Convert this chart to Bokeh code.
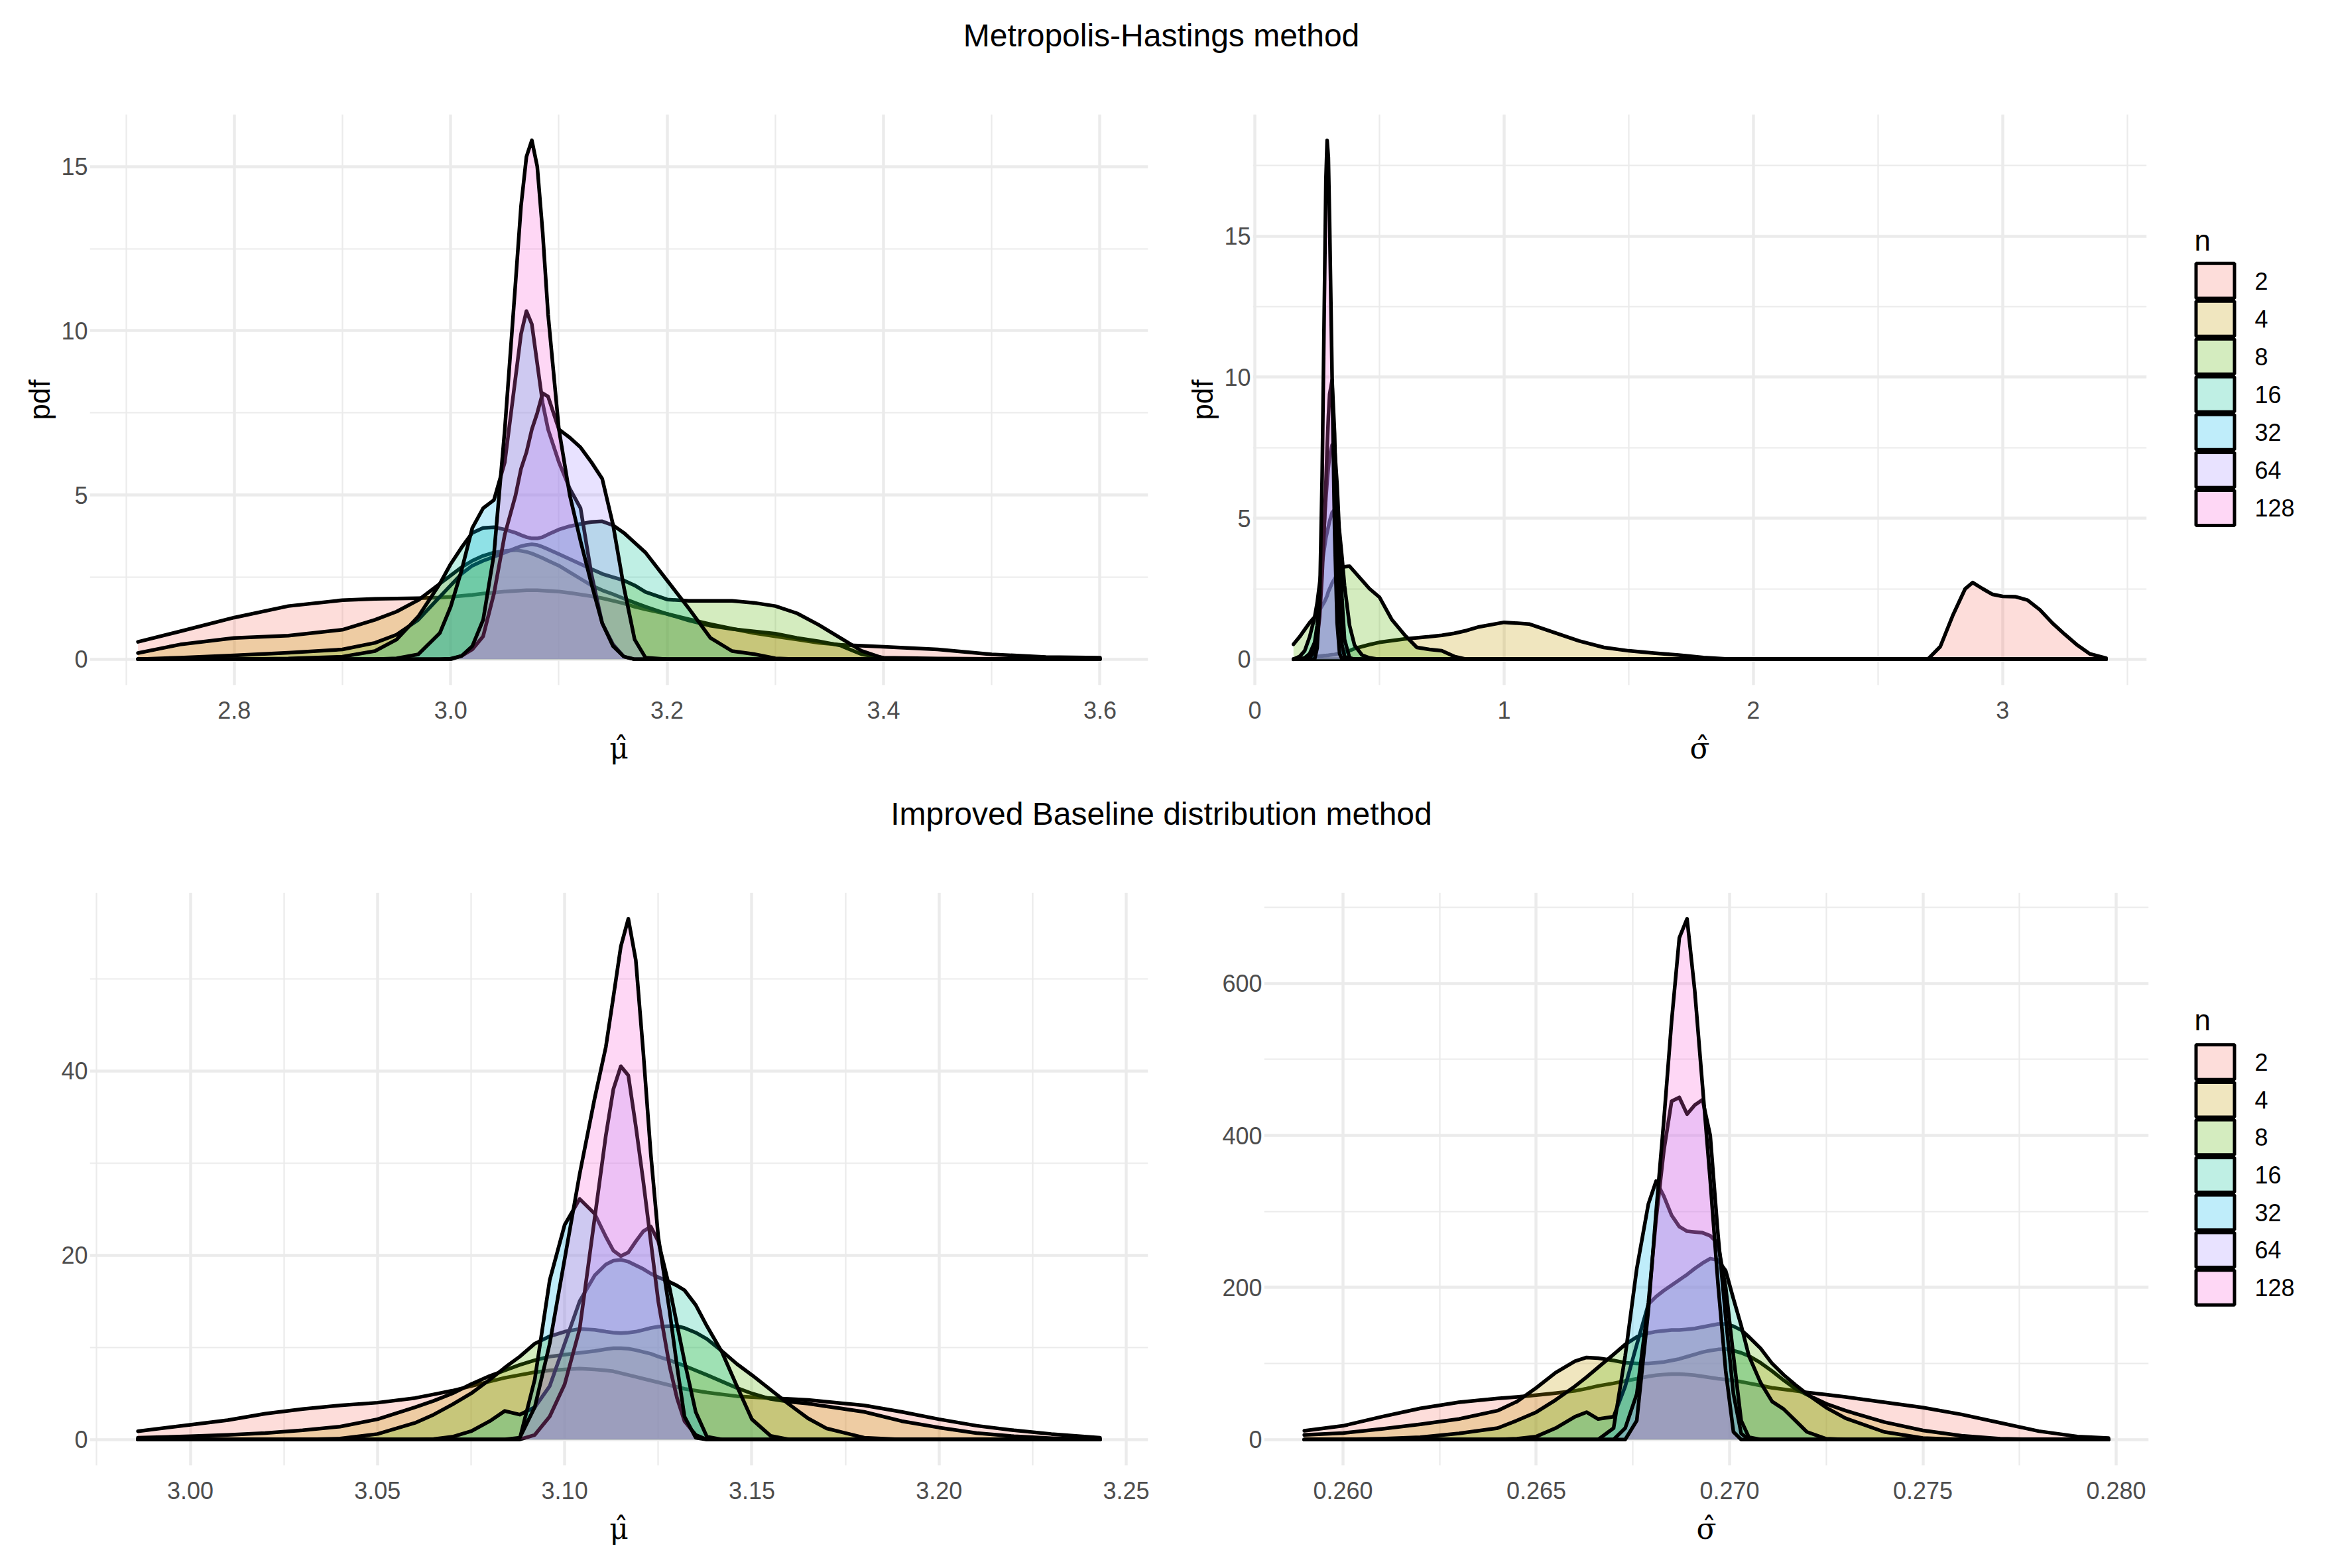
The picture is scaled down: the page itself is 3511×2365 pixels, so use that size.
from bokeh.plotting import figure
from bokeh.models import ColumnDataSource, Range1d, FixedTicker, PrintfTickFormatter
from bokeh.layouts import column, row
from bokeh.embed import file_html
from bokeh.resources import INLINE
from bokeh.core.properties import value

N_LABELS = ["2", "4", "8", "16", "32", "64", "128"]
COLORS = ["#F8766D", "#C49A00", "#53B400", "#00C094", "#00B6EB", "#A58AFF", "#FB61D7"]

TITLE_TOP = "Metropolis-Hastings method"
TITLE_BOTTOM = "Improved Baseline distribution method"

# ---------------- Metropolis-Hastings, mu-hat ----------------
mh_mu_x = [2.711, 2.75, 2.8, 2.85, 2.9, 2.93, 2.95, 2.97, 2.99, 3.0, 3.01, 3.02, 3.03, 3.04, 3.05, 3.06,
           3.065, 3.07, 3.075, 3.08, 3.085, 3.09, 3.1, 3.11, 3.12, 3.13, 3.14, 3.15, 3.16, 3.17, 3.18,
           3.2, 3.22, 3.24, 3.26, 3.28, 3.3, 3.32, 3.34, 3.36, 3.38, 3.4, 3.45, 3.5, 3.55, 3.6]
mh_mu_n2 = [0.53, 0.85, 1.27, 1.62, 1.8, 1.84, 1.85, 1.86, 1.88, 1.9, 1.93, 1.96, 2.0, 2.03, 2.06, 2.08,
            2.09, 2.1, 2.1, 2.1, 2.09, 2.08, 2.06, 2.02, 1.97, 1.92, 1.86, 1.78, 1.7, 1.6, 1.52,
            1.38, 1.22, 1.07, 0.93, 0.8, 0.7, 0.6, 0.5, 0.44, 0.41, 0.38, 0.3, 0.15, 0.07, 0.05]
mh_mu_n4 = [0.19, 0.45, 0.65, 0.72, 0.9, 1.2, 1.45, 1.8, 2.3, 2.55, 2.8, 3.0, 3.15, 3.25, 3.3, 3.32,
            3.3, 3.27, 3.22, 3.15, 3.08, 3.0, 2.85, 2.65, 2.45, 2.25, 2.1, 1.98, 1.85, 1.72, 1.6,
            1.38, 1.18, 1.02, 0.92, 0.85, 0.78, 0.65, 0.55, 0.42, 0.15, 0.05, 0.02, 0.01, 0.0, 0.0]
mh_mu_n8 = [0.0, 0.05, 0.12, 0.2, 0.3, 0.5, 0.75, 1.2, 1.9, 2.25, 2.6, 2.85, 3.0, 3.12, 3.25, 3.38,
            3.44, 3.48, 3.5, 3.48, 3.42, 3.35, 3.2, 3.05, 2.9, 2.75, 2.6, 2.5, 2.4, 2.25, 2.05,
            1.82, 1.78, 1.78, 1.78, 1.72, 1.62, 1.4, 1.05, 0.65, 0.25, 0.03, 0.0, 0.0, 0.0, 0.0]
mh_mu_n16 = [0.0, 0.0, 0.0, 0.02, 0.08, 0.25, 0.6, 1.3, 2.3, 2.9, 3.4, 3.85, 4.0, 4.02, 3.95, 3.85,
             3.78, 3.72, 3.68, 3.68, 3.72, 3.8, 3.95, 4.05, 4.12, 4.18, 4.2, 4.08, 3.85, 3.55, 3.25,
             2.4, 1.55, 0.65, 0.25, 0.16, 0.03, 0.0, 0.0, 0.0, 0.0, 0.0, 0.0, 0.0, 0.0, 0.0]
mh_mu_n32 = [0.0, 0.0, 0.0, 0.0, 0.0, 0.0, 0.03, 0.15, 0.8, 1.6, 2.7, 4.0, 4.6, 4.85, 6.0, 8.6,
             9.9, 10.6, 10.2, 9.0, 7.8, 7.0, 6.0, 5.2, 4.6, 2.6, 1.1, 0.45, 0.08, 0.0, 0.0,
             0.0, 0.0, 0.0, 0.0, 0.0, 0.0, 0.0, 0.0, 0.0, 0.0, 0.0, 0.0, 0.0, 0.0, 0.0]
mh_mu_n64 = [0.0, 0.0, 0.0, 0.0, 0.0, 0.0, 0.0, 0.0, 0.0, 0.02, 0.1, 0.3, 0.7, 2.0, 3.8, 5.0,
             5.8, 6.3, 7.0, 7.5, 8.1, 8.0, 7.0, 6.75, 6.45, 6.0, 5.5, 4.1, 2.2, 0.6, 0.05,
             0.0, 0.0, 0.0, 0.0, 0.0, 0.0, 0.0, 0.0, 0.0, 0.0, 0.0, 0.0, 0.0, 0.0, 0.0]
mh_mu_n128 = [0.0, 0.0, 0.0, 0.0, 0.0, 0.0, 0.0, 0.0, 0.0, 0.0, 0.1, 0.4, 1.2, 3.2, 7.0, 11.5,
              13.8, 15.3, 15.8, 15.0, 13.0, 10.5, 7.0, 5.0, 3.6, 2.3, 1.1, 0.4, 0.08, 0.0, 0.0,
              0.0, 0.0, 0.0, 0.0, 0.0, 0.0, 0.0, 0.0, 0.0, 0.0, 0.0, 0.0, 0.0, 0.0, 0.0]

# ---------------- Metropolis-Hastings, sigma-hat ----------------
mh_sd_x = [0.155, 0.18, 0.2, 0.22, 0.24, 0.25, 0.26, 0.27, 0.28, 0.285, 0.29, 0.295, 0.3, 0.31, 0.32,
           0.33, 0.34, 0.35, 0.36, 0.38, 0.4, 0.43, 0.46, 0.5, 0.55, 0.6, 0.65, 0.7, 0.75, 0.8, 0.85,
           0.9, 1.0, 1.1, 1.2, 1.3, 1.4, 1.5, 1.6, 1.7, 1.8, 1.9, 2.0, 2.2, 2.4, 2.6, 2.7, 2.75,
           2.8, 2.85, 2.88, 2.92, 2.96, 3.0, 3.05, 3.1, 3.15, 3.2, 3.25, 3.3, 3.35, 3.415]
mh_sd_n2 = [0.0, 0.0, 0.0, 0.0, 0.0, 0.0, 0.0, 0.0, 0.0, 0.0, 0.0, 0.0, 0.0, 0.0, 0.0,
            0.0, 0.0, 0.0, 0.0, 0.0, 0.0, 0.0, 0.0, 0.0, 0.0, 0.0, 0.0, 0.0, 0.0, 0.0, 0.0,
            0.0, 0.0, 0.0, 0.0, 0.0, 0.0, 0.0, 0.0, 0.0, 0.0, 0.0, 0.0, 0.0, 0.0, 0.0, 0.0, 0.45,
            1.55, 2.5, 2.72, 2.5, 2.3, 2.23, 2.22, 2.1, 1.75, 1.28, 0.88, 0.5, 0.19, 0.04]
mh_sd_n4 = [0.0, 0.02, 0.04, 0.06, 0.08, 0.1, 0.11, 0.12, 0.13, 0.13, 0.14, 0.14, 0.15, 0.16, 0.17,
            0.19, 0.2, 0.22, 0.25, 0.3, 0.38, 0.45, 0.52, 0.6, 0.66, 0.72, 0.76, 0.8, 0.85, 0.92, 1.02,
            1.15, 1.31, 1.25, 0.95, 0.65, 0.42, 0.3, 0.22, 0.15, 0.06, 0.01, 0.0, 0.0, 0.0, 0.0, 0.0, 0.0,
            0.0, 0.0, 0.0, 0.0, 0.0, 0.0, 0.0, 0.0, 0.0, 0.0, 0.0, 0.0, 0.0, 0.0]
mh_sd_n8 = [0.53, 0.8, 1.05, 1.3, 1.5, 1.6, 1.75, 1.9, 2.05, 2.15, 2.25, 2.4, 2.5, 2.7, 2.85,
            3.0, 3.12, 3.22, 3.28, 3.3, 3.1, 2.8, 2.5, 2.2, 1.4, 0.87, 0.42, 0.35, 0.3, 0.1, 0.0,
            0.0, 0.0, 0.0, 0.0, 0.0, 0.0, 0.0, 0.0, 0.0, 0.0, 0.0, 0.0, 0.0, 0.0, 0.0, 0.0, 0.0,
            0.0, 0.0, 0.0, 0.0, 0.0, 0.0, 0.0, 0.0, 0.0, 0.0, 0.0, 0.0, 0.0, 0.0]
mh_sd_n16 = [0.0, 0.1, 0.3, 0.8, 1.5, 2.0, 2.7, 3.4, 4.0, 4.3, 4.5, 4.7, 4.9, 5.2, 5.3,
             5.1, 4.5, 3.6, 2.6, 1.2, 0.5, 0.15, 0.05, 0.0, 0.0, 0.0, 0.0, 0.0, 0.0, 0.0, 0.0,
             0.0, 0.0, 0.0, 0.0, 0.0, 0.0, 0.0, 0.0, 0.0, 0.0, 0.0, 0.0, 0.0, 0.0, 0.0, 0.0, 0.0,
             0.0, 0.0, 0.0, 0.0, 0.0, 0.0, 0.0, 0.0, 0.0, 0.0, 0.0, 0.0, 0.0, 0.0]
mh_sd_n32 = [0.0, 0.0, 0.05, 0.2, 0.6, 1.2, 2.2, 3.5, 5.0, 5.7, 6.3, 6.8, 7.2, 7.6, 7.5,
             6.2, 4.3, 2.1, 0.7, 0.05, 0.0, 0.0, 0.0, 0.0, 0.0, 0.0, 0.0, 0.0, 0.0, 0.0, 0.0,
             0.0, 0.0, 0.0, 0.0, 0.0, 0.0, 0.0, 0.0, 0.0, 0.0, 0.0, 0.0, 0.0, 0.0, 0.0, 0.0, 0.0,
             0.0, 0.0, 0.0, 0.0, 0.0, 0.0, 0.0, 0.0, 0.0, 0.0, 0.0, 0.0, 0.0, 0.0]
mh_sd_n64 = [0.0, 0.0, 0.0, 0.05, 0.3, 0.7, 1.5, 3.0, 5.0, 6.2, 7.5, 8.6, 9.4, 9.9, 8.0,
             4.5, 1.8, 0.5, 0.1, 0.0, 0.0, 0.0, 0.0, 0.0, 0.0, 0.0, 0.0, 0.0, 0.0, 0.0, 0.0,
             0.0, 0.0, 0.0, 0.0, 0.0, 0.0, 0.0, 0.0, 0.0, 0.0, 0.0, 0.0, 0.0, 0.0, 0.0, 0.0, 0.0,
             0.0, 0.0, 0.0, 0.0, 0.0, 0.0, 0.0, 0.0, 0.0, 0.0, 0.0, 0.0, 0.0, 0.0]
mh_sd_n128 = [0.0, 0.0, 0.0, 0.0, 0.0, 0.4, 2.0, 6.5, 13.5, 17.0, 18.4, 17.8, 15.5, 10.0, 4.5,
              1.3, 0.2, 0.0, 0.0, 0.0, 0.0, 0.0, 0.0, 0.0, 0.0, 0.0, 0.0, 0.0, 0.0, 0.0, 0.0,
              0.0, 0.0, 0.0, 0.0, 0.0, 0.0, 0.0, 0.0, 0.0, 0.0, 0.0, 0.0, 0.0, 0.0, 0.0, 0.0, 0.0,
              0.0, 0.0, 0.0, 0.0, 0.0, 0.0, 0.0, 0.0, 0.0, 0.0, 0.0, 0.0, 0.0, 0.0]

# ---------------- Improved baseline, mu-hat ----------------
ib_mu_x = [2.986, 3.0, 3.01, 3.02, 3.03, 3.04, 3.05, 3.06, 3.065, 3.07, 3.075, 3.08,
           3.084, 3.088, 3.092, 3.096, 3.1, 3.104, 3.108, 3.111, 3.113, 3.115, 3.117, 3.119, 3.121,
           3.123, 3.125, 3.128, 3.13, 3.132, 3.135, 3.138, 3.142, 3.146, 3.15, 3.155, 3.16, 3.165,
           3.17, 3.18, 3.19, 3.2, 3.21, 3.22, 3.23, 3.243]
ib_mu_n2 = [0.9, 1.6, 2.1, 2.8, 3.3, 3.7, 4.0, 4.5, 4.9, 5.3, 5.8, 6.3,
            6.7, 7.0, 7.3, 7.5, 7.6, 7.7, 7.6, 7.5, 7.4, 7.2, 7.0, 6.8, 6.6,
            6.4, 6.2, 5.9, 5.7, 5.5, 5.3, 5.1, 4.9, 4.7, 4.6, 4.5, 4.4, 4.3,
            4.1, 3.7, 3.0, 2.2, 1.5, 1.0, 0.6, 0.2]
ib_mu_n4 = [0.2, 0.35, 0.5, 0.7, 1.0, 1.4, 2.2, 3.5, 4.2, 5.0, 6.0, 6.9,
            7.5, 8.1, 8.6, 9.0, 9.2, 9.4, 9.6, 9.8, 9.9, 9.9, 9.85, 9.7, 9.5,
            9.3, 9.0, 8.6, 8.3, 8.0, 7.5, 7.0, 6.3, 5.6, 5.0, 4.4, 4.1, 3.9,
            3.6, 3.0, 2.0, 1.3, 0.7, 0.35, 0.15, 0.0]
ib_mu_n8 = [0.0, 0.0, 0.0, 0.0, 0.0, 0.1, 0.6, 1.8, 2.7, 3.8, 5.0, 6.5,
            7.8, 9.0, 10.4, 11.2, 11.7, 12.0, 11.9, 11.7, 11.6, 11.55, 11.6, 11.7, 11.9,
            12.1, 12.25, 12.3, 12.3, 12.1, 11.6, 10.9, 9.6, 8.2, 7.0, 5.4, 3.8, 2.3,
            1.2, 0.2, 0.0, 0.0, 0.0, 0.0, 0.0, 0.0]
ib_mu_n16 = [0.0, 0.0, 0.0, 0.0, 0.0, 0.0, 0.0, 0.0, 0.05, 0.3, 0.9, 2.0,
             3.1, 2.7, 3.5, 5.8, 10.4, 15.0, 17.8, 19.0, 19.4, 19.5, 19.3, 18.9, 18.5,
             18.0, 17.6, 17.1, 16.7, 16.2, 14.6, 12.3, 9.5, 5.8, 2.2, 0.4, 0.0, 0.0,
             0.0, 0.0, 0.0, 0.0, 0.0, 0.0, 0.0, 0.0]
ib_mu_n32 = [0.0, 0.0, 0.0, 0.0, 0.0, 0.0, 0.0, 0.0, 0.0, 0.0, 0.0, 0.0,
             0.0, 0.1, 6.5, 17.3, 23.3, 26.1, 24.5, 22.0, 20.5, 19.9, 20.3, 21.5, 22.6,
             23.1, 21.5, 16.5, 12.5, 8.5, 3.0, 0.3, 0.0, 0.0, 0.0, 0.0, 0.0, 0.0,
             0.0, 0.0, 0.0, 0.0, 0.0, 0.0, 0.0, 0.0]
ib_mu_n64 = [0.0, 0.0, 0.0, 0.0, 0.0, 0.0, 0.0, 0.0, 0.0, 0.0, 0.0, 0.0,
             0.0, 0.0, 0.5, 2.5, 6.0, 12.0, 24.0, 33.0, 38.0, 40.5, 39.5, 34.0, 28.0,
             21.5, 15.0, 8.0, 4.5, 2.0, 0.5, 0.0, 0.0, 0.0, 0.0, 0.0, 0.0, 0.0,
             0.0, 0.0, 0.0, 0.0, 0.0, 0.0, 0.0, 0.0]
ib_mu_n128 = [0.0, 0.0, 0.0, 0.0, 0.0, 0.0, 0.0, 0.0, 0.0, 0.0, 0.0, 0.0,
              0.0, 0.2, 3.5, 10.4, 19.6, 28.8, 37.0, 42.6, 48.0, 53.5, 56.5, 52.0, 42.0,
              31.0, 22.0, 14.0, 8.0, 2.5, 0.2, 0.0, 0.0, 0.0, 0.0, 0.0, 0.0, 0.0,
              0.0, 0.0, 0.0, 0.0, 0.0, 0.0, 0.0, 0.0]

# ---------------- Improved baseline, sigma-hat ----------------
ib_sd_x = [0.259, 0.260, 0.261, 0.262, 0.263, 0.264, 0.2645, 0.265, 0.2655, 0.266,
           0.2663, 0.2666, 0.267, 0.2673, 0.2676, 0.2679,
           0.2681, 0.2683, 0.2685, 0.2687, 0.2689, 0.2691, 0.2693, 0.2695, 0.2697, 0.2699, 0.2701,
           0.2703, 0.2705, 0.2708, 0.2711, 0.2714, 0.2717, 0.272, 0.2725, 0.273,
           0.274, 0.275, 0.276, 0.277, 0.278, 0.279, 0.2798]
ib_sd_n2 = [11.5, 18, 30, 41, 49, 54, 56, 58.5, 61, 64,
            67, 70.5, 74, 77, 80, 83,
            84.5, 85.5, 86, 86, 85.5, 84.5, 83, 81.5, 80, 79, 77.5,
            76, 74, 71, 68, 66, 64, 62, 59, 56,
            49, 42, 33, 22, 11, 4, 2]
ib_sd_n4 = [6, 8.5, 14, 20, 27, 38, 50, 68, 88, 103,
            108, 107, 104, 101, 100, 100,
            101, 102, 104, 106, 109, 112, 115, 117, 118.5, 119, 117,
            114, 110, 101, 90, 78, 67, 59, 47, 38,
            23, 12, 5, 1, 0, 0, 0]
ib_sd_n8 = [0, 0, 1, 3, 8, 15, 25, 36, 52, 70,
            82, 95, 112, 125, 135, 140,
            142, 143, 144, 144, 145, 146, 148, 150, 152, 152, 149,
            144, 135, 120, 100, 85, 72, 60, 42, 28,
            10, 2, 0, 0, 0, 0, 0]
ib_sd_n16 = [0, 0, 0, 0, 0, 0, 1, 4, 15, 30,
             36, 27, 30, 70, 125, 178,
             188, 196, 203, 210, 217, 225, 232, 238, 236, 222, 185,
             150, 110, 75, 50, 40, 25, 10, 1, 0,
             0, 0, 0, 0, 0, 0, 0]
ib_sd_n32 = [0, 0, 0, 0, 0, 0, 0, 0, 0, 0,
             0, 0, 15, 110, 225, 310,
             340, 320, 295, 280, 274, 273, 272, 268, 258, 200, 110,
             25, 3, 0, 0, 0, 0, 0, 0, 0,
             0, 0, 0, 0, 0, 0, 0]
ib_sd_n64 = [0, 0, 0, 0, 0, 0, 0, 0, 0, 0,
             0, 0, 0, 15, 60, 180,
             290, 380, 445, 450, 428, 440, 447, 400, 270, 160, 60,
             8, 0, 0, 0, 0, 0, 0, 0, 0,
             0, 0, 0, 0, 0, 0, 0]
ib_sd_n128 = [0, 0, 0, 0, 0, 0, 0, 0, 0, 0,
              0, 0, 0, 0, 25, 170,
              300, 420, 550, 660, 685, 590, 465, 340, 205, 90, 10,
              0, 0, 0, 0, 0, 0, 0, 0, 0,
              0, 0, 0, 0, 0, 0, 0]

FONT = "Liberation Sans"
SERIF = "DejaVu Serif"
GRID = "#EBEBEB"
CURVE_W = 5.5


def fit(ys, n):
    ys = list(ys)
    if len(ys) < n:
        ys = ys + [0.0] * (n - len(ys))
    return ys[:n]


def panel(xs, series, width, height, mbl, mbr, mbt, mbb,
          xticks, xminor, xfmt, yticks, yminor, xlabel, ylabel):
    xmin, xmax = min(xs), max(xs)
    ymax = max(max(s) for s in series)
    dx = (xmax - xmin) * 0.05
    p = figure(width=width, height=height, output_backend="svg", toolbar_location=None,
               x_range=Range1d(xmin - dx, xmax + dx),
               y_range=Range1d(-0.05 * ymax, 1.05 * ymax),
               min_border_left=mbl, min_border_right=mbr,
               min_border_top=mbt, min_border_bottom=mbb)
    p.outline_line_color = None
    p.background_fill_color = "white"
    p.border_fill_color = "white"

    xt = FixedTicker(ticks=xticks, minor_ticks=xminor)
    yt = FixedTicker(ticks=yticks, minor_ticks=yminor)
    p.xaxis.ticker = xt
    p.yaxis.ticker = yt
    p.xgrid.ticker = xt
    p.ygrid.ticker = yt
    p.xaxis.formatter = PrintfTickFormatter(format=xfmt)
    p.yaxis.formatter = PrintfTickFormatter(format="%d")
    for g in (p.xgrid, p.ygrid):
        g.grid_line_color = GRID
        g.grid_line_width = 4.4
        g.minor_grid_line_color = GRID
        g.minor_grid_line_width = 2.2

    for ax in (p.xaxis, p.yaxis):
        ax.axis_line_color = None
        ax.major_tick_line_color = None
        ax.minor_tick_line_color = None
        ax.major_tick_out = 0
        ax.major_tick_in = 0
        ax.minor_tick_out = 0
        ax.minor_tick_in = 0
        ax.major_label_text_font = FONT
        ax.major_label_text_font_size = "36px"
        ax.major_label_text_color = "#4D4D4D"
    p.xaxis.major_label_standoff = 24
    p.yaxis.major_label_standoff = 3

    p.xaxis.axis_label = xlabel
    p.xaxis.axis_label_text_font = SERIF
    p.xaxis.axis_label_text_font_size = "44px"
    p.xaxis.axis_label_text_font_style = "normal"
    p.xaxis.axis_label_text_color = "black"
    p.xaxis.axis_label_standoff = 16
    if ylabel:
        p.yaxis.axis_label = ylabel
        p.yaxis.axis_label_text_font = FONT
        p.yaxis.axis_label_text_font_size = "44px"
        p.yaxis.axis_label_text_font_style = "normal"
        p.yaxis.axis_label_text_color = "black"
        p.yaxis.axis_label_standoff = 5

    n = len(xs)
    for i, ys in enumerate(series):
        src = ColumnDataSource(dict(x=list(xs), y=fit(ys, n)))
        p.varea(x="x", y1=0, y2="y", source=src, fill_color=COLORS[i], fill_alpha=0.25)
        p.line(x="x", y="y", source=src, line_color="black", line_width=CURVE_W,
               line_join="round", line_cap="round")
    return p


def title_fig(text, width, height, cx, cy):
    p = figure(width=width, height=height, output_backend="svg", toolbar_location=None,
               x_range=Range1d(0, width), y_range=Range1d(height, 0),
               x_axis_type=None, y_axis_type=None,
               min_border_left=0, min_border_right=0, min_border_top=0, min_border_bottom=0)
    p.outline_line_color = None
    p.grid.visible = False
    p.text(x=[cx], y=[cy], text=[text], text_align="center", text_baseline="middle",
           text_font=value(FONT), text_font_size="48px", text_color="black")
    return p


def legend_fig(width, height, key_top, key_h, title_y):
    p = figure(width=width, height=height, output_backend="svg", toolbar_location=None,
               x_range=Range1d(0, width), y_range=Range1d(height, 0),
               x_axis_type=None, y_axis_type=None,
               min_border_left=0, min_border_right=0, min_border_top=0, min_border_bottom=0)
    p.outline_line_color = None
    p.grid.visible = False
    kx0, kx1 = 47, 110
    ins = 2.5
    k = len(N_LABELS)
    tops = [key_top + i * key_h + ins for i in range(k)]
    bots = [key_top + (i + 1) * key_h - ins for i in range(k)]
    mids = [key_top + (i + 0.5) * key_h for i in range(k)]
    p.quad(left=[kx0 + ins] * k, right=[kx1 - ins] * k, top=tops, bottom=bots,
           fill_color=COLORS, fill_alpha=0.25, line_color="black", line_width=5)
    p.text(x=[138] * k, y=mids, text=N_LABELS, text_align="left", text_baseline="middle",
           text_font=value(FONT), text_font_size="36px", text_color="black")
    p.text(x=[kx0], y=[title_y], text=["n"], text_align="left", text_baseline="middle",
           text_font=value(FONT), text_font_size="44px", text_color="black")
    return p


TOTAL_W = 3495
ROW1_H = 1052
ROW2_H = 1057
TITLE_H = 120
LEFT_W = 1752
RIGHT_W = 1510
LEG_W = TOTAL_W - LEFT_W - RIGHT_W

t1 = title_fig(TITLE_TOP, TOTAL_W, TITLE_H, 1751, 53)
t2 = title_fig(TITLE_BOTTOM, TOTAL_W, TITLE_H, 1751, 55)

MU_HAT = "\u03bc\u0302"
SD_HAT = "\u03c3\u0302"

tl = panel(mh_mu_x, [mh_mu_n2, mh_mu_n4, mh_mu_n8, mh_mu_n16, mh_mu_n32, mh_mu_n64, mh_mu_n128],
           LEFT_W, ROW1_H, 135, LEFT_W - 135 - 1596, 52, 139,
           [2.8, 3.0, 3.2, 3.4, 3.6], [2.7, 2.9, 3.1, 3.3, 3.5], "%.1f",
           [0, 5, 10, 15], [2.5, 7.5, 12.5], MU_HAT, "pdf")
tr = panel(mh_sd_x, [mh_sd_n2, mh_sd_n4, mh_sd_n8, mh_sd_n16, mh_sd_n32, mh_sd_n64, mh_sd_n128],
           RIGHT_W, ROW1_H, 137, RIGHT_W - 137 - 1348, 52, 139,
           [0, 1, 2, 3], [0.5, 1.5, 2.5, 3.5], "%d",
           [0, 5, 10, 15], [2.5, 7.5, 12.5, 17.5], SD_HAT, "pdf")
bl = panel(ib_mu_x, [ib_mu_n2, ib_mu_n4, ib_mu_n8, ib_mu_n16, ib_mu_n32, ib_mu_n64, ib_mu_n128],
           LEFT_W, ROW2_H, 135, LEFT_W - 135 - 1596, 54, 139,
           [3.00, 3.05, 3.10, 3.15, 3.20, 3.25], [2.975, 3.025, 3.075, 3.125, 3.175, 3.225], "%.2f",
           [0, 20, 40], [10, 30, 50], MU_HAT, None)
br = panel(ib_sd_x, [ib_sd_n2, ib_sd_n4, ib_sd_n8, ib_sd_n16, ib_sd_n32, ib_sd_n64, ib_sd_n128],
           RIGHT_W, ROW2_H, 154, RIGHT_W - 154 - 1334, 54, 139,
           [0.260, 0.265, 0.270, 0.275, 0.280], [0.2625, 0.2675, 0.2725, 0.2775], "%.3f",
           [0, 200, 400, 600], [100, 300, 500, 700], SD_HAT, None)

lg1 = legend_fig(LEG_W, ROW1_H, 272, 69.7, 232)
lg2 = legend_fig(LEG_W, ROW2_H, 278, 69.3, 235)

layout = column(t1, row(tl, tr, lg1), t2, row(bl, br, lg2))
open("out.html", "w").write(file_html(layout, INLINE))
